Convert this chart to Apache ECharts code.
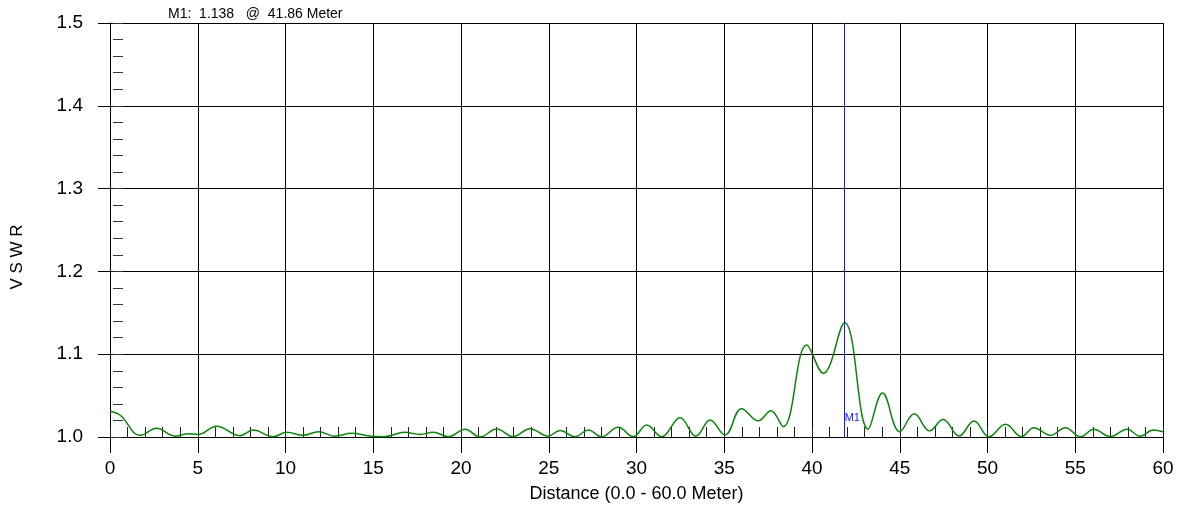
<!DOCTYPE html>
<html>
<head>
<meta charset="utf-8">
<script src="https://cdn.jsdelivr.net/npm/echarts@6/dist/echarts.min.js"></script>
<style>
  html, body { margin: 0; padding: 0; background: #fff; }
  #vswrchart { width: 1187px; height: 508px; }
</style>
</head>
<body>
<div id="vswrchart"></div>
<script>
	'use strict';

	/****** data *****/
	// trace: [distance (m), VSWR] at its peaks and dips
	var vswrTrace = [
		[0, 1.031], [0.6, 1.026], [1.71, 1.002], [2.66, 1.0105], [3.7, 1.001], [4.45, 1.004],
		[5.0, 1.003], [6.08, 1.013], [7.4, 1.0016], [8.16, 1.0085], [9.3, 1.0004], [10.07, 1.0057],
		[11.0, 1.002], [11.87, 1.0064], [12.8, 1.001], [13.77, 1.0044], [14.9, 1.0008], [15.6, 1.0004],
		[16.8, 1.0057], [17.66, 1.003], [18.42, 1.0057], [19.28, 1.0004], [20.23, 1.0093], [21.08, 1.0],
		[22.03, 1.0097], [22.98, 1.0004], [23.93, 1.010], [24.97, 1.001], [25.64, 1.008], [26.5, 1.0004],
		[27.26, 1.0085], [28.0, 1.0004], [28.96, 1.0117], [29.81, 1.0004], [30.58, 1.0145], [31.43, 1.0004],
		[32.48, 1.0233], [33.39, 1.001], [34.19, 1.0205], [35.04, 1.0024], [35.99, 1.0342], [36.94, 1.0195],
		[37.65, 1.0318], [38.36, 1.0125], [39.7, 1.111], [40.64, 1.077], [41.86, 1.138],
		[43.2, 1.0095], [44.02, 1.053], [45.0, 1.0064], [45.83, 1.028], [46.7, 1.0074],
		[47.47, 1.021], [48.38, 1.0012], [49.23, 1.0193], [50.08, 1.0004], [51.03, 1.0153], [51.94, 1.0004],
		[52.64, 1.0113], [53.59, 1.002], [54.44, 1.0113], [55.3, 1.0004], [56.06, 1.0093], [57.0, 1.0004],
		[57.95, 1.0093], [58.7, 1.001], [59.46, 1.0085], [60, 1.0064]
	];
	var markerName = 'M1';
	var markerDistance = 41.86;
	var markerValue = 1.138;
	var xRange = [0, 60];
	var yRange = [1.0, 1.5];

	var fontName = '"Liberation Sans", Arial, sans-serif';

	var optionVswr = {
		animation: false,
		grid: {
			top: 23,
			right: 24,
			bottom: 71,
			left: 110
		},
		title: {
			text: markerName + ':  ' + markerValue.toFixed(3) + '   @  ' + markerDistance.toFixed(2) + ' Meter',
			left: 163,
			top: 2,
			textStyle: {
				fontFamily: fontName,
				fontSize: 14,
				fontWeight: 'normal',
				color: '#000'
			}
		},
		xAxis: [
			{
				type: 'value',
				min: xRange[0],
				max: xRange[1],
				interval: 5,
				name: 'Distance (0.0 - 60.0 Meter)',
				nameLocation: 'middle',
				nameGap: 48,
				nameTextStyle: { fontFamily: fontName, fontSize: 18, color: '#000' },
				axisLine: { lineStyle: { color: '#000', width: 1 } },
				axisTick: { show: true, inside: false, length: 16, lineStyle: { color: '#000' } },
				axisLabel: { fontFamily: fontName, fontSize: 19, color: '#000', margin: 22 },
				splitLine: { show: true, lineStyle: { color: '#000', width: 1 } }
			},
			{
				// minor ticks every metre, pointing up into the plot
				type: 'value',
				min: xRange[0],
				max: xRange[1],
				interval: 1,
				position: 'bottom',
				axisLine: { show: false },
				axisTick: { show: true, inside: true, length: 10, lineStyle: { color: '#222' } },
				axisLabel: { show: false },
				splitLine: { show: false }
			}
		],
		yAxis: [
			{
				type: 'value',
				min: yRange[0],
				max: yRange[1],
				interval: 0.1,
				name: 'V S W R',
				nameLocation: 'middle',
				nameGap: 84,
				nameTextStyle: { fontFamily: fontName, fontSize: 17, color: '#000', padding: [0, 54, 0, 0] },
				axisLine: { show: true, lineStyle: { color: '#000', width: 1 } },
				axisTick: { show: true, inside: false, length: 12, lineStyle: { color: '#000' } },
				axisLabel: {
					fontFamily: fontName,
					fontSize: 19,
					color: '#000',
					margin: 27,
					formatter: function (v) { return v.toFixed(1); }
				},
				splitLine: { show: true, lineStyle: { color: '#000', width: 1 } }
			},
			{
				// minor ticks every 0.02, just inside the left axis
				type: 'value',
				min: yRange[0],
				max: yRange[1],
				interval: 0.02,
				position: 'left',
				offset: -3,
				axisLine: { show: false },
				axisTick: { show: true, inside: true, length: 10, lineStyle: { color: '#333' } },
				axisLabel: { show: false },
				splitLine: { show: false }
			}
		],
		series: [
			{
				name: 'VSWR',
				type: 'line',
				xAxisIndex: 0,
				yAxisIndex: 0,
				data: vswrTrace,
				smooth: 0.4,
				showSymbol: false,
				symbol: 'none',
				lineStyle: { color: '#0a850a', width: 1.5 },
				markLine: {
					silent: true,
					symbol: 'none',
					label: { show: false },
					lineStyle: { color: '#1a1aff', type: 'solid', width: 1 },
					data: [[{ coord: [markerDistance, yRange[0]] }, { coord: [markerDistance, yRange[1]] }]]
				},
				markPoint: {
					symbol: 'circle',
					symbolSize: 0,
					label: {
						show: true,
						position: 'right',
						distance: 0,
						formatter: markerName,
						fontFamily: fontName,
						fontSize: 11,
						color: '#1a1aff'
					},
					data: [{ coord: [markerDistance, 1.023] }]
				}
			}
		]
	};

	var vswrchart = echarts.init(document.getElementById('vswrchart'));
	vswrchart.setOption(optionVswr);
</script>
</body>
</html>
